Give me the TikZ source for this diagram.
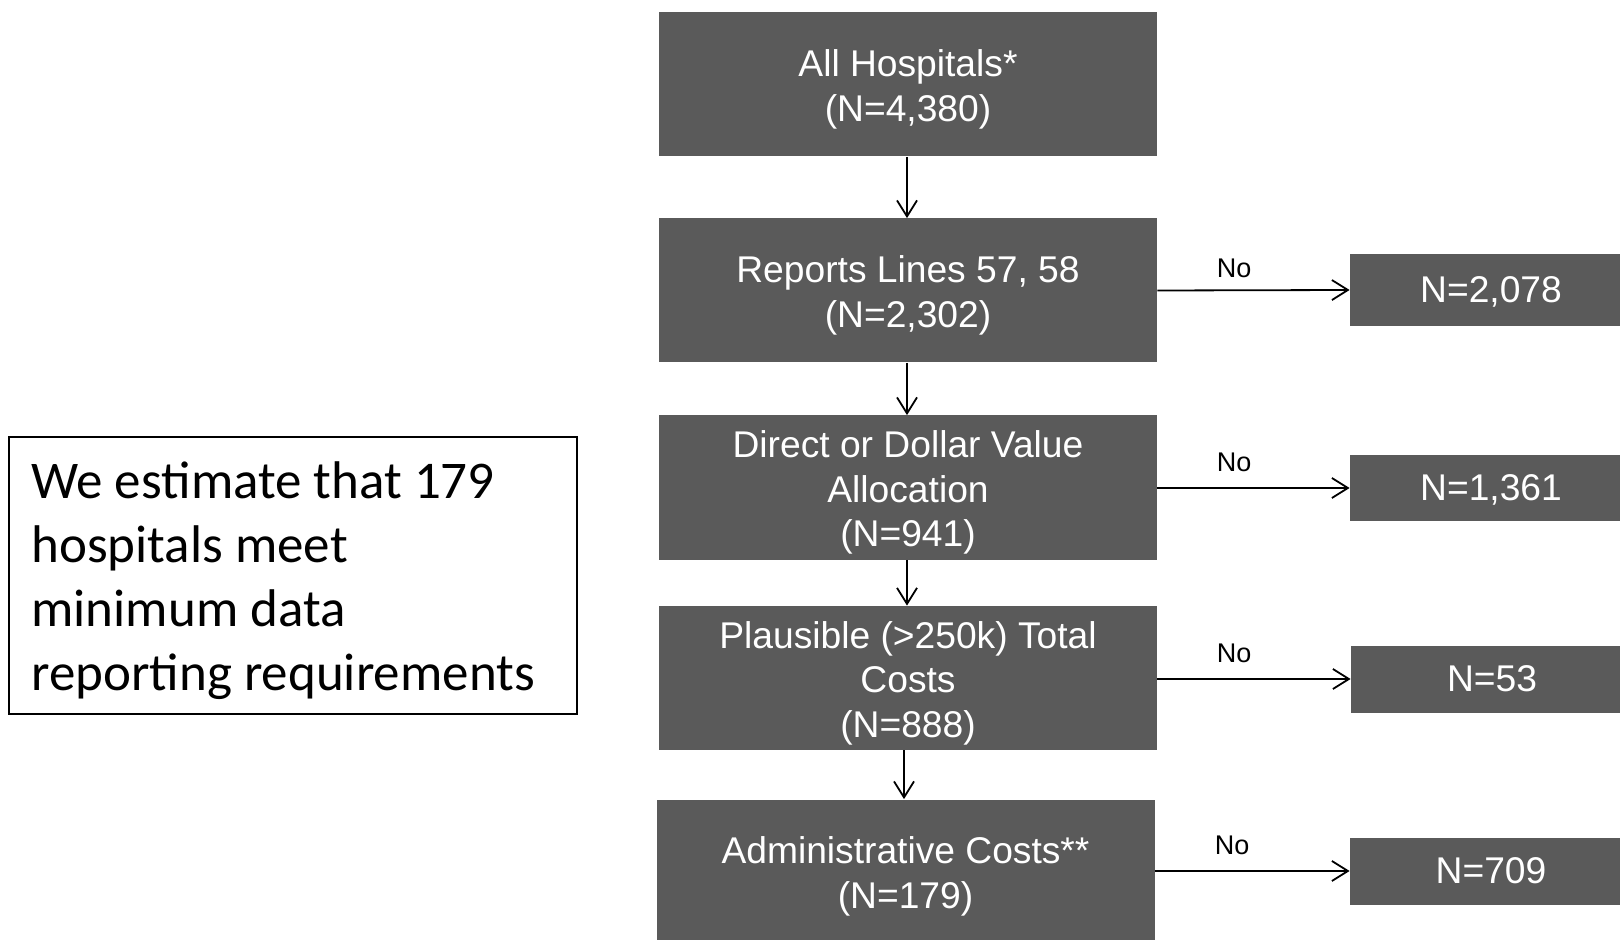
\documentclass[tikz,border=0pt]{standalone}
\usepackage{fontspec}
\setmainfont{Liberation Sans}
\newfontfamily\calib{Carlito}
\usetikzlibrary{arrows.meta}
\definecolor{boxgray}{RGB}{90,90,90}
\newcommand\topgap{\rule{0pt}{18.6pt}}
\tikzset{
  x=0.5pt, y=-0.5pt,
  mainbox/.style={fill=boxgray, text=white, minimum width=249pt, minimum height=72pt,
    inner sep=0pt, align=center, font=\fontsize{18.6}{22.3}\selectfont},
  sidebox/.style={fill=boxgray, text=white, minimum width=141pt, minimum height=34pt,
    inner sep=0pt, text depth=0pt, align=center, font=\fontsize{18.6}{22.3}\selectfont},
  nolabel/.style={font=\fontsize{13.5}{16}\selectfont, inner sep=0pt},
  arr/.style={line width=0.9pt, -{Straight Barb[length=8pt,width=10pt,line width=0.9pt]}},
}
\begin{document}
\begin{tikzpicture}
\useasboundingbox (0,0) rectangle (1620,940);
\clip (0,0) rectangle (1620,940);
\fill[white] (0,0) rectangle (1620,940);

\node[mainbox] (b1) at (908,84.5) {\topgap All Hospitals*\\(N=4,380)};
\node[mainbox] (b2) at (908,290.5) {\topgap Reports Lines 57, 58\\(N=2,302)};
\node[mainbox] (b3) at (908,487.5) {\topgap Direct or Dollar Value\\Allocation\\(N=941)};
\node[mainbox] (b4) at (908,678) {\topgap Plausible (>250k) Total\\Costs\\(N=888)};
\node[mainbox] (b5) at (905.5,871.5) {\topgap Administrative Costs**\\(N=179)};

\node[sidebox, minimum height=36pt] (r1) at (1491,290) {N=2,078};
\node[sidebox, minimum height=33pt] (r2) at (1491,488) {N=1,361};
\node[sidebox, minimum height=33.5pt] (r3) at (1492,679) {N=53};
\node[sidebox, minimum height=33.5pt] (r4) at (1491,871) {N=709};

\draw[arr] (b1.south -| 907,0) -- (b2.north -| 907,0);
\draw[arr] (b2.south -| 907,0) -- (b3.north -| 907,0);
\draw[arr] (b3.south -| 907,0) -- (b4.north -| 907,0);
\draw[arr] (b4.south -| 904,0) -- (b5.north -| 904,0);

\draw[arr] (b2.east) -- (r1.west);
\draw[arr] (b3.east |- r2.west) -- (r2.west);
\draw[arr] (b4.east |- r3.west) -- (r3.west);
\draw[arr] (b5.east |- r4.west) -- (r4.west);

\node[nolabel] (n1) at (1234,268) {No};
\node[nolabel] (n2) at (1234,462) {No};
\node[nolabel] (n3) at (1234,653) {No};
\node[nolabel] (n4) at (1232,845) {No};

\node[draw=black, line width=0.8pt, minimum width=284pt, minimum height=138.5pt,
  inner sep=0pt] (note) at (293,575.5) {};
\node[anchor=west, align=left, inner sep=0pt,
  font=\calib\fontsize{26.5}{32}\selectfont] (notetext) at (31,581)
  {We estimate that 179\\hospitals meet\\minimum data\\reporting requirements};
\end{tikzpicture}
\end{document}
